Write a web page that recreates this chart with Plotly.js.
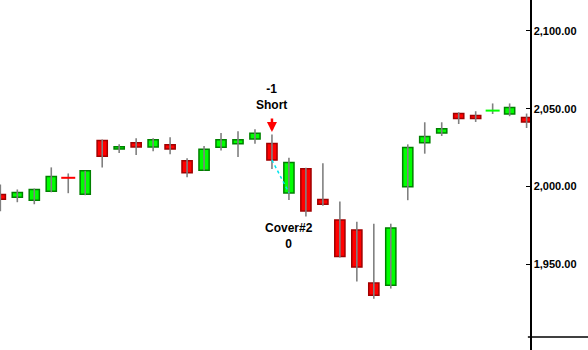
<!DOCTYPE html>
<html>
<head>
<meta charset="utf-8">
<script src="https://cdn.plot.ly/plotly-3.0.1.min.js"></script>
<style>html,body{margin:0;padding:0;background:#fff;}#chart{width:588px;height:350px;}</style>
</head>
<body>
<div id="chart"></div>
<script>
// Bar index (time order)
const barIndex = [0,1,2,3,4,5,6,7,8,9,10,11,12,13,14,15,16,17,18,19,20,21,22,23,24,25,26,27,28,29,30,31];
const openP  = [1994.8,1993.1,1991.2,1997.0,2005.6,1995.0,2029.5,2024.1,2028.2,2025.4,2026.9,2016.6,2010.5,2025.2,2027.5,2030.5,2027.7,1995.9,2011.4,1991.6,1978.5,1972.1,1937.9,1936.6,1999.8,2028.2,2034.4,2046.9,2045.6,2048.8,2046.6,2044.3];
const highP  = [2001.3,1998.1,1998.7,2012.3,2008.4,2010.1,2030.3,2027.1,2031.0,2031.0,2031.6,2018.1,2026.0,2034.4,2035.5,2036.8,2033.5,2018.5,2012.1,2015.0,1990.3,1977.4,1976.1,1976.1,2027.1,2041.3,2041.3,2047.7,2048.4,2053.4,2053.4,2046.9];
const lowP   = [1984.1,1989.9,1988.6,1996.3,1995.7,1994.4,2012.3,2021.5,2020.2,2022.6,2020.8,2006.0,2010.3,2023.2,2018.9,2027.5,2011.2,1991.4,1980.8,1987.7,1954.4,1938.9,1927.9,1934.4,1991.2,2021.1,2032.5,2040.2,2041.5,2046.6,2045.2,2037.6];
const closeP = [1991.8,1996.1,1998.1,2006.5,2005.6,2010.1,2019.5,2025.6,2025.4,2030.1,2024.1,2008.8,2023.9,2030.1,2030.1,2034.2,2017.0,2015.5,1984.3,1988.6,1955.0,1948.2,1930.1,1973.4,2025.0,2032.1,2037.2,2043.7,2043.7,2048.8,2050.8,2041.5];

// Trade: short entry and cover
const tradeBars   = [16, 17];
const tradePrices = [2017.0, 1996.0];
const shortLabel = ["-1", "Short"];
const coverLabel = ["Cover#2", "0"];
const yTicks = [1950, 2000, 2050, 2100];

// wicks
const wx = [], wy = [];
barIndex.forEach((x, i) => { wx.push(x, x, null); wy.push(lowP[i], highP[i], null); });

// bodies
const bodyY = [], bodyBase = [], bodyFill = [], bodyLine = [];
const dojiX = [], dojiY = [], dojiColor = [];
barIndex.forEach((x, i) => {
  const o = openP[i], c = closeP[i];
  if (o === c) {
    bodyY.push(null); bodyBase.push(null); bodyFill.push('#00ff00'); bodyLine.push('#008000');
    const prev = i > 0 ? closeP[i-1] : c;
    dojiX.push(x); dojiY.push(c); dojiColor.push(c >= prev ? '#00ff00' : '#ff0000');
  } else {
    bodyY.push(c - o); bodyBase.push(o);
    const up = c > o;
    bodyFill.push(up ? '#00ff00' : '#ff0000');
    bodyLine.push(up ? '#008000' : '#a00000');
  }
});

const traces = [
  {type:'scatter', mode:'lines', x:wx, y:wy, line:{color:'#808080', width:1.6}, hoverinfo:'skip', showlegend:false},
  {type:'scatter', mode:'lines', x:tradeBars, y:tradePrices, line:{color:'#00e5ee', width:1.5, dash:'dot'}, hoverinfo:'skip', showlegend:false},
  {type:'bar', x:barIndex, y:bodyY, base:bodyBase, width:0.6,
   marker:{color:bodyFill, line:{color:bodyLine, width:1.5}}, showlegend:false},
  {type:'scatter', mode:'markers', x:dojiX, y:dojiY,
   marker:{symbol:'line-ew', size:10, line:{color:dojiColor, width:2}}, showlegend:false}
];

const layout = {
  width:588, height:350,
  margin:{l:0, r:58, t:0, b:0},
  paper_bgcolor:'#ffffff', plot_bgcolor:'#ffffff',
  barmode:'overlay',
  showlegend:false,
  xaxis:{range:[-0.02, 31.2], visible:false, fixedrange:true},
  yaxis:{range:[1894.9, 2119.9], side:'right', showgrid:false, zeroline:false,
         showline:true, linecolor:'#000', linewidth:1.5, mirror:false,
         ticks:'inside', ticklen:4, tickcolor:'#000', tickwidth:1,
         tickvals:yTicks, tickformat:',.2f',
         tickfont:{family:'Arial, Liberation Sans, sans-serif', size:11, color:'#000', weight:700}},
  shapes:[{type:'line', xref:'paper', yref:'paper', x0:0.996, x1:588/530, y0:13/350, y1:13/350,
           line:{color:'#000', width:1.5}}],
  annotations:[
    {x:tradeBars[0], y:2057.6, xref:'x', yref:'y', text:shortLabel.join('<br>'), showarrow:false,
     font:{family:'Arial, Liberation Sans, sans-serif', size:12, color:'#000', weight:700}},
    {x:tradeBars[0], y:2035.0, xref:'x', yref:'y', text:'', showarrow:true, ax:0, ay:-15,
     arrowhead:2, arrowsize:0.8, arrowwidth:2.5, arrowcolor:'#ff0000', standoff:0},
    {x:tradeBars[1], y:1968.2, xref:'x', yref:'y', text:coverLabel.join('<br>'), showarrow:false,
     font:{family:'Arial, Liberation Sans, sans-serif', size:12, color:'#000', weight:700}}
  ]
};

Plotly.newPlot('chart', traces, layout, {displayModeBar:false, staticPlot:true});
</script>
</body>
</html>
